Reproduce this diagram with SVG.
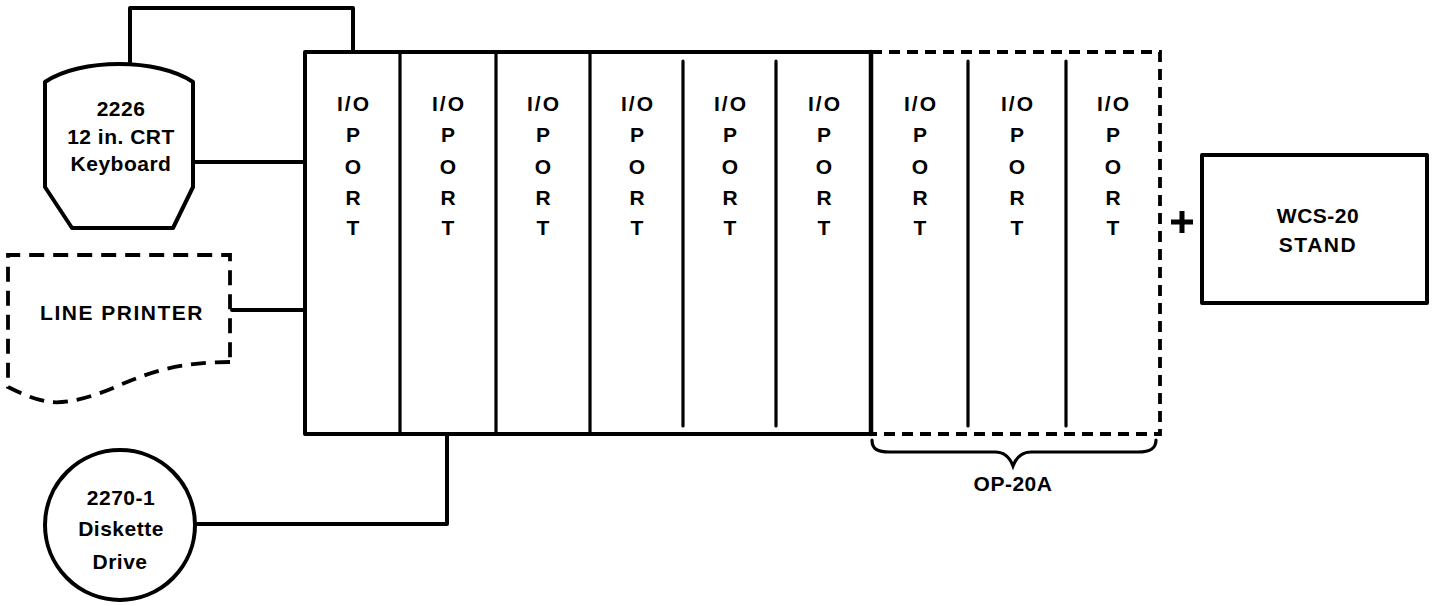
<svg xmlns="http://www.w3.org/2000/svg" width="1435" height="606" viewBox="0 0 1435 606">
<style>
  .ln { fill: none; stroke: #000; stroke-width: 4; stroke-linejoin: round; stroke-linecap: round; }
  .thin { fill: none; stroke: #000; stroke-width: 3.2; stroke-linecap: round; }
  .dash { fill: none; stroke: #000; stroke-width: 3.8; stroke-dasharray: 11 7; }
  .pdash { fill: none; stroke: #000; stroke-width: 3.8; stroke-dasharray: 15 9; }
  text { font-family: "Liberation Sans", Arial, sans-serif; font-weight: bold; font-size: 21px; fill: #000; text-anchor: middle; letter-spacing: 0.5px; }
  .port text { letter-spacing: 2px; }
</style>
<rect width="1435" height="606" fill="#fff"/>

<g id="connectors">
  <path class="ln" d="M130,62 V8 H353 V52"/>
  <path class="ln" d="M193,162 H305"/>
  <path class="ln" d="M232,310 H305"/>
  <path class="ln" d="M195,524 H447 V434"/>
</g>

<g id="crt-keyboard">
  <path class="ln" d="M45,82 C80,58 158,58 193,82 L193,187 L173,228 L72,228 L45,187 Z"/>
  <text x="121" y="116">2226</text>
  <text x="121" y="144">12 in. CRT</text>
  <text x="121" y="171">Keyboard</text>
</g>

<g id="line-printer">
  <path class="pdash" d="M230,362 C180,362 150,372 120,385 C95,396 70,404 50,402 C35,400 20,393 8,387 L8,255 L230,255 Z"/>
  <text x="122" y="320" style="letter-spacing:1.5px">LINE PRINTER</text>
</g>

<g id="diskette-drive">
  <circle class="ln" cx="120" cy="525" r="75"/>
  <text x="121" y="505">2270-1</text>
  <text x="121" y="536">Diskette</text>
  <text x="120" y="569">Drive</text>
</g>

<g id="io-chassis">
  <path class="ln" d="M871,52 H305 V434 H871"/>
  <path class="dash" d="M871,52 H1160 V434 H871"/>
  <line class="thin" x1="400" y1="52" x2="400" y2="434"/>
  <line class="thin" x1="496" y1="52" x2="496" y2="434"/>
  <line class="thin" x1="590" y1="52" x2="590" y2="434"/>
  <line class="thin" x1="683" y1="61" x2="683" y2="426"/>
  <line class="thin" x1="776" y1="61" x2="776" y2="426"/>
  <line class="ln" x1="871" y1="52" x2="871" y2="434" style="stroke-width:4.5"/>
  <line class="thin" x1="968" y1="61" x2="968" y2="426"/>
  <line class="thin" x1="1066" y1="61" x2="1066" y2="426"/>
</g>

<g id="io-ports" class="port">
  <g id="port1"><text x="354" y="111">I/O</text><text x="354" y="142">P</text><text x="354" y="174">O</text><text x="354" y="205">R</text><text x="354" y="235">T</text></g>
  <g id="port2"><text x="449" y="111">I/O</text><text x="449" y="142">P</text><text x="449" y="174">O</text><text x="449" y="205">R</text><text x="449" y="235">T</text></g>
  <g id="port3"><text x="544" y="111">I/O</text><text x="544" y="142">P</text><text x="544" y="174">O</text><text x="544" y="205">R</text><text x="544" y="235">T</text></g>
  <g id="port4"><text x="638" y="111">I/O</text><text x="638" y="142">P</text><text x="638" y="174">O</text><text x="638" y="205">R</text><text x="638" y="235">T</text></g>
  <g id="port5"><text x="731" y="111">I/O</text><text x="731" y="142">P</text><text x="731" y="174">O</text><text x="731" y="205">R</text><text x="731" y="235">T</text></g>
  <g id="port6"><text x="825" y="111">I/O</text><text x="825" y="142">P</text><text x="825" y="174">O</text><text x="825" y="205">R</text><text x="825" y="235">T</text></g>
  <g id="port7"><text x="921" y="111">I/O</text><text x="921" y="142">P</text><text x="921" y="174">O</text><text x="921" y="205">R</text><text x="921" y="235">T</text></g>
  <g id="port8"><text x="1018" y="111">I/O</text><text x="1018" y="142">P</text><text x="1018" y="174">O</text><text x="1018" y="205">R</text><text x="1018" y="235">T</text></g>
  <g id="port9"><text x="1114" y="111">I/O</text><text x="1114" y="142">P</text><text x="1114" y="174">O</text><text x="1114" y="205">R</text><text x="1114" y="235">T</text></g>
</g>

<g id="op-20a">
  <path class="thin" d="M872,440 C872,449 877,452 890,452 H995 C1005,452 1010,458 1013,466 C1016,458 1021,452 1031,452 H1138 C1151,452 1156,448 1156,440"/>
  <text x="1013" y="491">OP-20A</text>
</g>

<g id="plus">
  <path d="M1171,222 H1193 M1182,211 V233" stroke="#000" stroke-width="5" fill="none"/>
</g>

<g id="wcs-20-stand">
  <rect class="ln" x="1202" y="155" width="225" height="148"/>
  <text x="1318" y="223">WCS-20</text>
  <text x="1318" y="252" style="letter-spacing:1.5px">STAND</text>
</g>
</svg>
